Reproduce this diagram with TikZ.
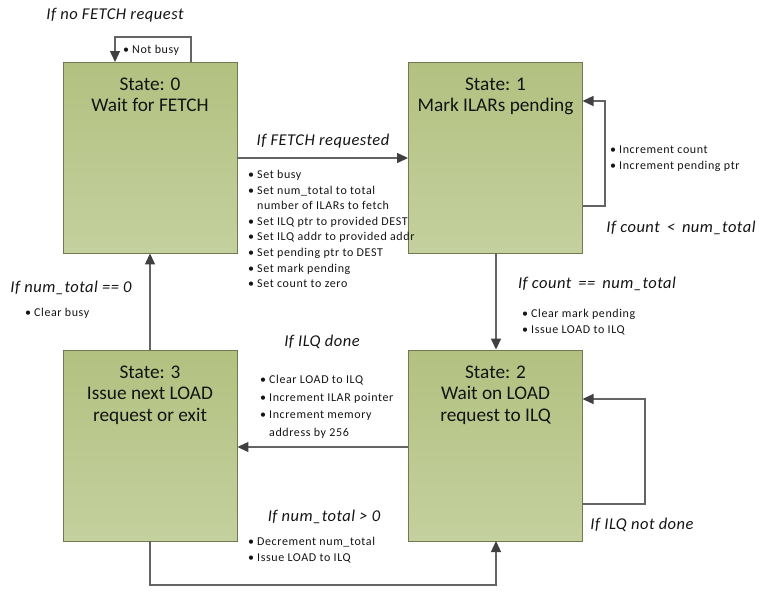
\documentclass[tikz,border=0pt]{standalone}
\usepackage{fontspec}
\setmainfont{Carlito}
\usetikzlibrary{arrows.meta}
\definecolor{boxtop}{RGB}{178,193,128}
\definecolor{boxbot}{RGB}{196,208,158}
\definecolor{boxline}{RGB}{110,122,84}
\definecolor{arrowc}{RGB}{100,100,100}
\definecolor{headc}{RGB}{64,64,64}
\definecolor{txt}{RGB}{20,20,20}
\tikzset{
  statebox/.style={draw=boxline, line width=0.9pt, top color=boxtop, bottom color=boxbot, minimum width=174pt, minimum height=191pt, inner sep=0pt},
  stitle/.style={font=\fontsize{19.3}{21.5}\selectfont, align=center, text=txt},
  cond/.style={font=\fontsize{16.5}{18}\selectfont\itshape\addfontfeatures{LetterSpace=3}, text=txt, inner sep=0pt},
  blist/.style={font=\fontsize{12}{15.6}\selectfont\addfontfeatures{LetterSpace=5}, align=left, text=txt, inner sep=0pt, anchor=west},
  conn/.style={draw=arrowc, line width=1.3pt, -{Triangle[length=11pt,width=10pt,color=headc]}},
}
\newcommand{\bl}{\textbullet\hspace{3pt}}
\newcommand{\bind}{\phantom{\textbullet}\hspace{3pt}}
\begin{document}
\begin{tikzpicture}[x=1pt,y=-1pt]
\useasboundingbox (0,0) rectangle (760,592);
% boxes
\node[statebox] (s0) at (150,157.5) {};
\node[statebox] (s1) at (495.5,157.5) {};
\node[statebox] (s2) at (495.5,445.5) {};
\node[statebox] (s3) at (150,445.5) {};
\node[stitle, anchor=north] (t0) at (150,74) {State: 0\\Wait for FETCH};
\node[stitle, anchor=north] (t1) at (495.5,74) {State: 1\\Mark ILARs pending};
\node[stitle, anchor=north] (t2) at (495.5,362) {State: 2\\Wait on LOAD\\request to ILQ};
\node[stitle, anchor=north] (t3) at (150,362) {State: 3\\Issue next LOAD\\request or exit};
% coordinates for loops
\coordinate (l0a) at (191,62);
\coordinate (l0b) at (191,37);
\coordinate (l0c) at (115,37);
\coordinate (l0d) at (115,62);
\coordinate (l1a) at (582.5,206);
\coordinate (l1b) at (605,206);
\coordinate (l1c) at (605,101);
\coordinate (l1d) at (582.5,101);
\coordinate (l2a) at (582.5,504);
\coordinate (l2b) at (645,504);
\coordinate (l2c) at (645,399);
\coordinate (l2d) at (582.5,399);
\coordinate (b3) at (150,541);
\coordinate (c1) at (150,585);
\coordinate (c2) at (496,585);
\coordinate (b2) at (496,541);
% connectors
\draw[conn] (l0a) -- (l0b) -- (l0c) -- (l0d);
\draw[conn] (l1a) -- (l1b) -- (l1c) -- (l1d);
\draw[conn] (l2a) -- (l2b) -- (l2c) -- (l2d);
\draw[conn] (s0.east |- 0,158) -- (s1.west |- 0,158);
\draw[conn] (s1.south -| 496,0) -- (s2.north -| 496,0);
\draw[conn] (s2.west |- 0,447) -- (s3.east |- 0,447);
\draw[conn] (s3.north) -- (s0.south);
\draw[conn] (b3) -- (c1) -- (c2) -- (b2);
% labels
\node[cond] (c0) at (115,15) {If no FETCH request};
\node[blist] (n0) at (123,50) {\bl Not busy};
\node[cond] (c01) at (323,141) {If FETCH requested};
\node[blist, anchor=north west] (n01) at (248,170) {\bl Set busy\\\bl Set num\_total to total\\\bind number of ILARs to fetch\\\bl Set ILQ ptr to provided DEST\\\bl Set ILQ addr to provided addr\\\bl Set pending ptr to DEST\\\bl Set mark pending\\\bl Set count to zero};
\node[blist, anchor=north west] (n11) at (610,146) {\bl Increment count\\\bl Increment pending ptr};
\node[cond] (c11) at (681,228) {If count \,<\, num\_total};
\node[cond] (c30) at (71,288) {If num\_total == 0};
\node[blist] (n30) at (25,313) {\bl Clear busy};
\node[cond] (c12) at (597,284) {If count \,==\, num\_total};
\node[blist, anchor=north west] (n12) at (522,309) {\bl Clear mark pending\\\bl Issue LOAD to ILQ};
\node[cond] (c23) at (322,342) {If ILQ done};
\node[blist, anchor=north west, font=\fontsize{12}{17.5}\selectfont\addfontfeatures{LetterSpace=5}] (n23) at (260,375) {\bl Clear LOAD to ILQ\\\bl Increment ILAR pointer\\\bl Increment memory\\\bind address by 256};
\node[cond] (c32) at (324,517) {If num\_total > 0};
\node[blist, anchor=north west] (n32) at (248,537) {\bl Decrement num\_total\\\bl Issue LOAD to ILQ};
\node[cond] (c22) at (642,525) {If ILQ not done};
\end{tikzpicture}
\end{document}
